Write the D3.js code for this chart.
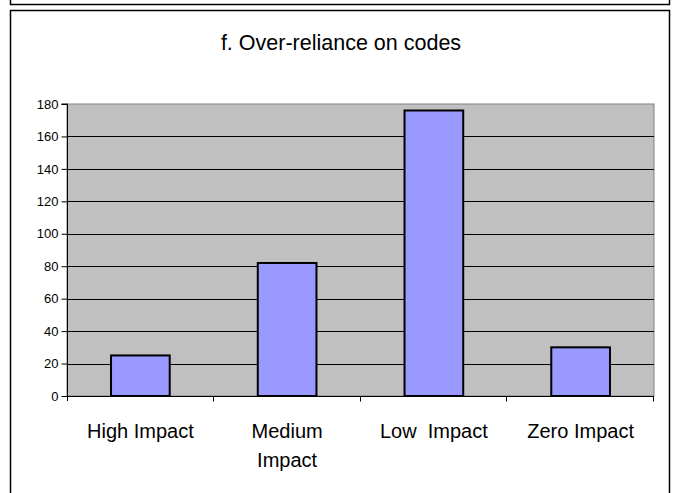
<!DOCTYPE html>
<html><head><meta charset="utf-8">
<script src="https://cdn.jsdelivr.net/npm/d3@7"></script>
<style>body{margin:0;background:#fff}svg{display:block}</style>
</head><body>
<script>
const categories = ["High Impact", "Medium Impact", "Low  Impact", "Zero Impact"];
const categoryLines = [["High Impact"], ["Medium", "Impact"], ["Low  Impact"], ["Zero Impact"]];
const values = [25, 82, 176, 30];
const yTicks = [0, 20, 40, 60, 80, 100, 120, 140, 160, 180];
const title = "f. Over-reliance on codes";

const W = 675, H = 493;
const svg = d3.select("body").append("svg").attr("width", W).attr("height", H);
const font = "Liberation Sans, Arial, sans-serif";

// frames
svg.append("rect").attr("x", 10.5).attr("y", -10).attr("width", 659).attr("height", 14.5)
  .attr("fill", "none").attr("stroke", "#000").attr("stroke-width", 1.5);
svg.append("rect").attr("x", 10.5).attr("y", 10.5).attr("width", 659).attr("height", 495)
  .attr("fill", "#fff").attr("stroke", "#000").attr("stroke-width", 1.5);

const m = {left: 67, right: 654, top: 104, bottom: 396};
const x = d3.scaleBand().domain(categories).range([m.left, m.right]).paddingInner(0).paddingOuter(0);
const y = d3.scaleLinear().domain([0, 180]).range([m.bottom, m.top]);

svg.append("text").attr("x", 341).attr("y", 50).attr("text-anchor", "middle")
  .attr("font-family", font).attr("font-size", 21.5).text(title);

// plot area
svg.append("rect").attr("x", m.left).attr("y", m.top).attr("width", m.right - m.left).attr("height", m.bottom - m.top)
  .attr("fill", "#c0c0c0").attr("stroke", "#808080").attr("stroke-width", 1);

// gridlines
svg.append("g").selectAll("line").data(yTicks.filter(d => d > 0 && d < 180)).join("line")
  .attr("x1", m.left).attr("x2", m.right)
  .attr("y1", d => Math.round(y(d)) + 0.5).attr("y2", d => Math.round(y(d)) + 0.5)
  .attr("stroke", "#000").attr("stroke-width", 1);

// bars
const bw = x.bandwidth() * 0.4;
svg.append("g").selectAll("rect").data(values).join("rect")
  .attr("x", (d, i) => x(categories[i]) + (x.bandwidth() - bw) / 2)
  .attr("y", d => y(d))
  .attr("width", bw)
  .attr("height", d => y(0) - y(d))
  .attr("fill", "#9999ff").attr("stroke", "#000").attr("stroke-width", 2);

// y axis
const yAxis = d3.axisLeft(y).tickValues(yTicks).tickSize(6).tickPadding(3);
const gy = svg.append("g").attr("transform", `translate(${m.left + 0.5},0)`).call(yAxis);
gy.select(".domain").attr("d", `M-6,${y(180)}H0V${m.bottom + 5}`).attr("stroke", "#000");
gy.selectAll("line").attr("stroke", "#000");
gy.selectAll("text").attr("font-family", font).attr("font-size", 13).attr("fill", "#000");

// x axis
const gx = svg.append("g").attr("transform", `translate(0,${m.bottom + 0.5})`);
gx.append("line").attr("x1", m.left).attr("x2", m.right).attr("stroke", "#000");
gx.selectAll(".tk").data(categories).join("line").attr("class", "tk")
  .attr("x1", d => Math.round(x(d) + x.bandwidth()) - 0.5).attr("x2", d => Math.round(x(d) + x.bandwidth()) - 0.5)
  .attr("y1", 0).attr("y2", 5).attr("stroke", "#000");
const lab = svg.append("g").selectAll("text").data(categories).join("text")
  .attr("x", d => x(d) + x.bandwidth() / 2)
  .attr("y", 438).attr("text-anchor", "middle")
  .attr("font-family", font).attr("font-size", 20).style("white-space", "pre");
lab.each(function(d, i) {
  const t = d3.select(this);
  categoryLines[i].forEach((ln, j) => {
    t.append("tspan").attr("x", x(d) + x.bandwidth() / 2).attr("dy", j === 0 ? 0 : 28.5).text(ln);
  });
});
</script>
</body></html>
